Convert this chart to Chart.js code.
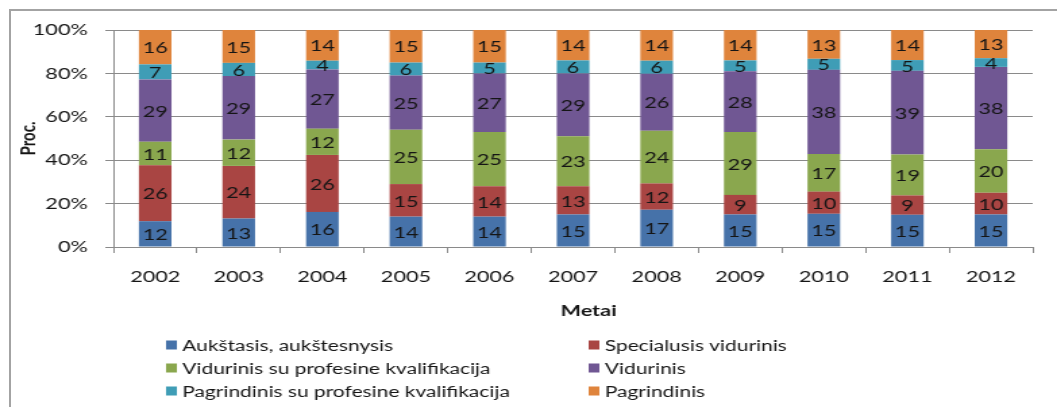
<!DOCTYPE html>
<html>
<head>
<meta charset="utf-8">
<script src="https://cdn.jsdelivr.net/npm/chart.js@4.4.1/dist/chart.umd.min.js"></script>
<style>
  body { margin: 0; background: #fff; overflow: hidden; width: 1057px; height: 407px; }
  #frame { position: absolute; left: 9px; top: 9px; width: 1100px; height: 500px; border: 2px solid #a3a3a3; }
  #wrap { position: absolute; left: 0; top: 0; width: 783px; height: 407px; transform: scaleX(1.35); transform-origin: 0 0; }
</style>
</head>
<body>
<div id="frame"></div>
<div id="wrap"><canvas id="mycanvas"></canvas></div>
<script>
// values as printed on the bars (percent)
var years = ['2002','2003','2004','2005','2006','2007','2008','2009','2010','2011','2012'];
var aukstasis = [12,13,16,14,14,15,17,15,15,15,15];
var specialusis = [26,24,26,15,14,13,12,9,10,9,10];
var vidurinisProf = [11,12,12,25,25,23,24,29,17,19,20];
var vidurinis = [29,29,27,25,27,29,26,28,38,39,38];
var pagrindinisProf = [7,6,4,6,5,6,6,5,5,5,4];
var pagrindinis = [16,15,14,15,15,14,14,14,13,14,13];
var yTicks = [0,20,40,60,80,100];

var seriesNames = ['Aukštasis, aukštesnysis','Specialusis vidurinis','Vidurinis su profesine kvalifikacija','Vidurinis','Pagrindinis su profesine kvalifikacija','Pagrindinis'];
var seriesColors = ['#4672a9','#a94543','#8aa74e','#705793','#3f9db6','#df843c'];
var seriesData = [aukstasis, specialusis, vidurinisProf, vidurinis, pagrindinisProf, pagrindinis];

var FONT = 'Lato';
var TXT = '#151515';

// 100% stacked: each column scaled to its own total
var totals = years.map(function(y, j){
	var s = 0;
	for(var i in seriesData){ s += seriesData[i][j]; }
	return s;
});

var datasets = [];
for(var i in seriesData){
	datasets.push({
		label: seriesNames[i],
		backgroundColor: seriesColors[i],
		borderWidth: 0,
		raw: seriesData[i],
		data: seriesData[i].map(function(v, j){ return v / totals[j] * 100; })
	});
}

var valueLabels = {
	id: 'valueLabels',
	afterDatasetsDraw: function(chart){
		var ctx = chart.ctx;
		ctx.save();
		ctx.font = '16px ' + FONT;
		ctx.fillStyle = TXT;
		ctx.textAlign = 'center';
		ctx.textBaseline = 'middle';
		chart.data.datasets.forEach(function(ds, i){
			chart.getDatasetMeta(i).data.forEach(function(bar, j){
				var p = bar.getProps(['x','y','base'], true);
				ctx.fillText(ds.raw[j], p.x, (p.y + p.base) / 2 + 1);
			});
		});
		ctx.restore();
	}
};

// axis title + two-column legend under the x axis
var bottomText = {
	id: 'bottomText',
	afterDraw: function(chart){
		var ctx = chart.ctx;
		ctx.save();
		ctx.textBaseline = 'middle';
		ctx.fillStyle = TXT;
		ctx.font = 'bold 16px ' + FONT;
		ctx.textAlign = 'center';
		ctx.fillText('Metai', 436, 311);

		ctx.font = '15.5px ' + FONT;
		ctx.textAlign = 'left';
		var colX = [123, 436];
		var rowY = [345, 368, 391];
		chart.data.datasets.forEach(function(ds, i){
			var x = colX[i % 2], y = rowY[Math.floor(i / 2)];
			ctx.fillStyle = ds.backgroundColor;
			ctx.fillRect(x, y - 4.5, 8, 9);
			ctx.fillStyle = TXT;
			ctx.fillText(ds.label, x + 12, y + 1);
		});
		ctx.restore();
	}
};

var ctx = document.getElementById('mycanvas');
var barGraph = new Chart(ctx, {
	type: 'bar',
	data: { labels: years, datasets: datasets },
	plugins: [valueLabels, bottomText],
	options: {
		responsive: true,
		maintainAspectRatio: false,
		animation: false,
		layout: { padding: { left: 12, right: 18, top: 30, bottom: 87 } },
		plugins: { legend: { display: false }, tooltip: { enabled: false } },
		datasets: { bar: { categoryPercentage: 1, barPercentage: 0.39 } },
		scales: {
			x: {
				stacked: true,
				grid: { display: true, drawOnChartArea: false, drawTicks: true, tickLength: 6, color: '#8a8a8a' },
				border: { display: true, color: '#8a8a8a' },
				ticks: { padding: 14, color: TXT, font: { family: FONT, size: 16 } },
				afterFit: function(s){ s.height = 73; }
			},
			y: {
				stacked: true,
				min: 0,
				max: 100,
				afterBuildTicks: function(s){ s.ticks = yTicks.map(function(v){ return { value: v }; }); },
				grid: { color: '#8a8a8a', tickLength: 6 },
				border: { display: true, color: '#8a8a8a' },
				ticks: { padding: 13, color: TXT, font: { family: FONT, size: 16 }, callback: function(v){ return v + '%'; } },
				title: { display: true, text: 'Proc.', color: TXT, padding: 0, font: { family: FONT, size: 15, weight: 'bold' } },
				afterFit: function(s){ s.width = 72; }
			}
		}
	}
});
</script>
</body>
</html>
